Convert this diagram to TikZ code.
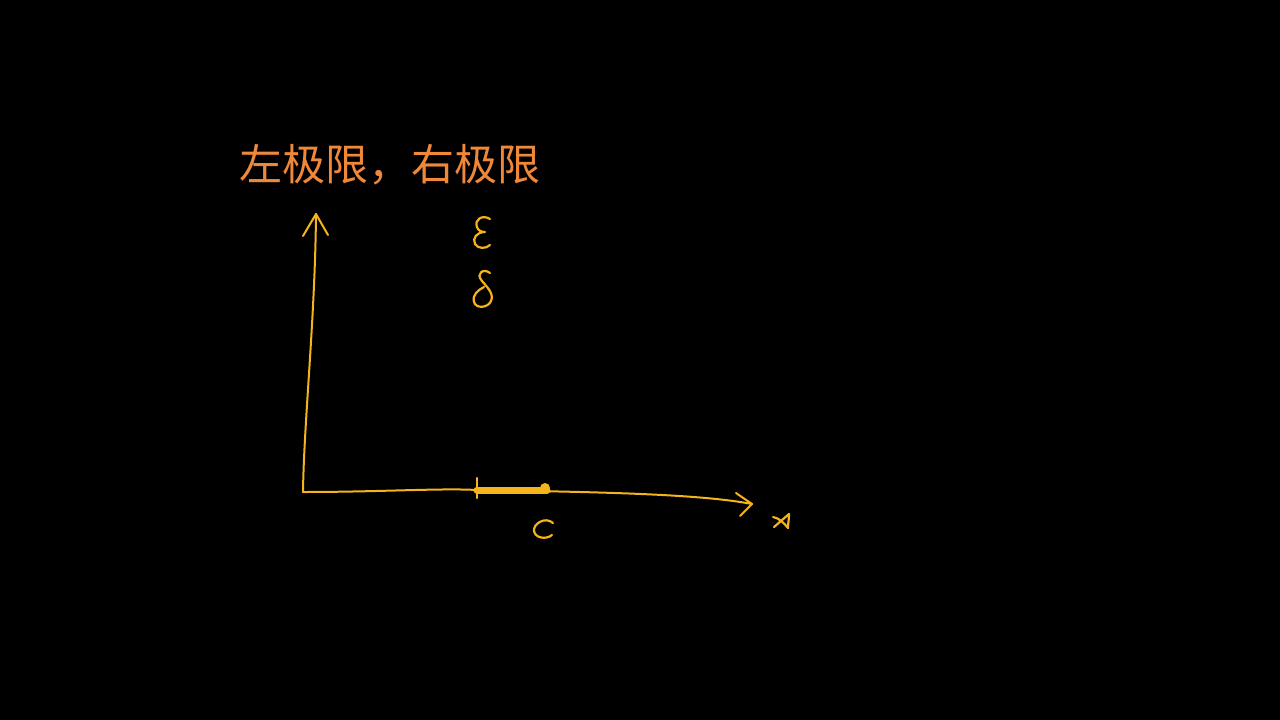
\documentclass[tikz,border=0pt]{standalone}
\usepackage{fontspec}
\newfontfamily\cjk{Noto Sans CJK SC}
\definecolor{titleor}{HTML}{F0883A}
\definecolor{pen}{HTML}{F5B41C}
\begin{document}
\begin{tikzpicture}[x=1pt,y=-1pt,
  penline/.style={draw=pen,line width=2pt,line cap=round,line join=round},
  glyph/.style={draw=pen,line width=2.2pt,line cap=round,line join=round}]
\fill[black] (0,0) rectangle (1280,720);
\useasboundingbox (0,0) rectangle (1280,720);
\node[text=titleor,inner sep=0pt,font=\cjk\fontsize{43}{50}\selectfont] (title) at (390,165) {左极限，右极限};
\coordinate (o) at (303,492);
\coordinate (ytop) at (316,214);
\coordinate (xend) at (752,504);
\coordinate (a) at (477,490);
\coordinate (b) at (547,490);
% y axis
\draw[penline] (o) .. controls (304,420) and (315,320) .. (ytop);
\draw[penline] (303,236) -- (ytop) -- (328,235);
% x axis
\draw[penline] (o) .. controls (380,492) and (440,488) .. (a) .. controls (600,492) and (700,494) .. (xend);
\draw[penline] (736,493) -- (xend) -- (740,516);
% thick segment
\draw[draw=pen,line width=7pt,line cap=round] (a) -- (b);
\draw[penline,line width=2.5pt] (477,478) -- (477,498);
\fill[pen] (545,488) circle (5);
% epsilon
\draw[glyph] (490,219) .. controls (482,214) and (474,220) .. (477,227)
  .. controls (478,231) and (482,232) .. (485,232)
  .. controls (477,232) and (472,238) .. (475,244)
  .. controls (478,249) and (486,249) .. (490,245);
% delta
\draw[glyph] (490,273) .. controls (484,268) and (475,273) .. (482,281)
  .. controls (488,288) and (494,294) .. (491,301)
  .. controls (488,308) and (476,309) .. (474,302)
  .. controls (472,295) and (478,290) .. (484,287);
% c
\draw[glyph] (553,523) .. controls (545,516) and (533,524) .. (534,531)
  .. controls (535,538) and (546,540) .. (552,535);
% x
\draw[glyph] (773,517) .. controls (779,518) and (784,523) .. (788,528);
\draw[glyph] (774,527) -- (789,514) .. controls (789,519) and (788,524) .. (788,528);
\path (482,232) node (eps) {} (482,290) node (del) {} (544,530) node (c) {} (781,520) node (x) {};
\end{tikzpicture}
\end{document}
